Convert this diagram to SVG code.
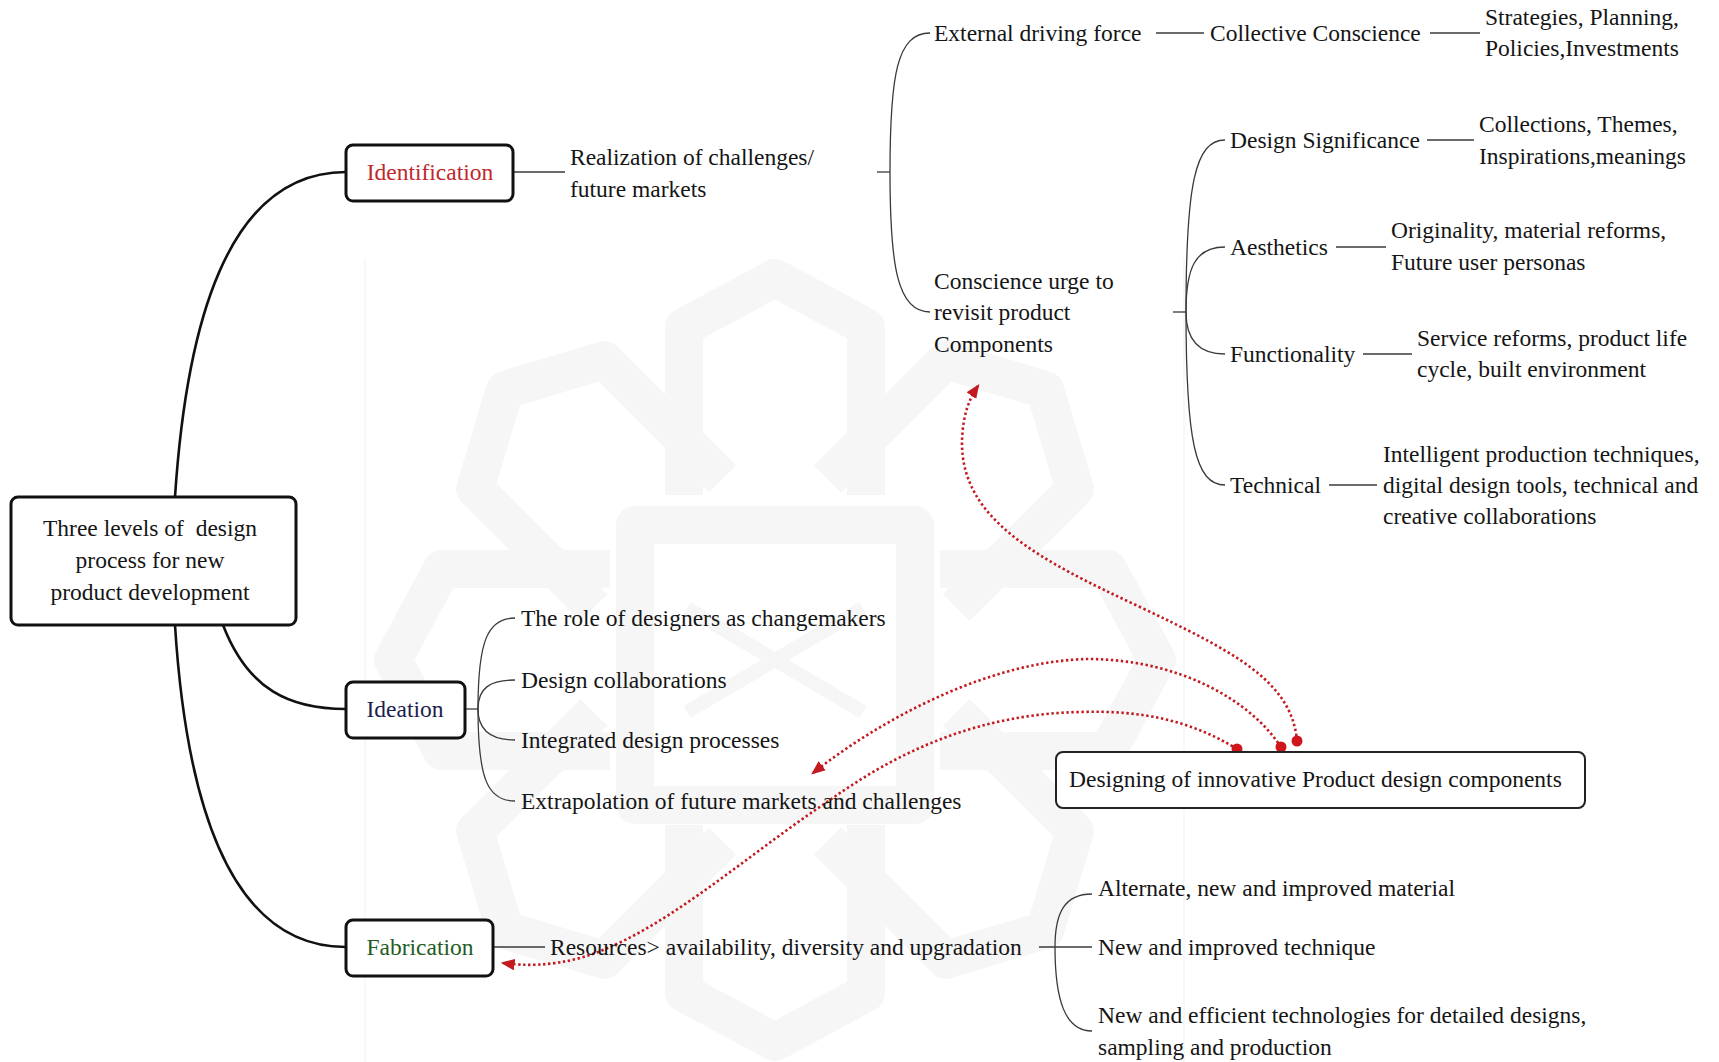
<svg xmlns="http://www.w3.org/2000/svg" width="1719" height="1062" viewBox="0 0 1719 1062">
  <style>
    text { font-family: "Liberation Serif", "Times New Roman", serif; font-size: 23.5px; fill: #151515; }
    .mid { text-anchor: middle; }
    .box { fill: #ffffff; stroke: #111111; stroke-width: 3; }
    .main { fill: none; stroke: #111111; stroke-width: 2.6; }
    .thin { fill: none; stroke: #3a3a3a; stroke-width: 1.3; }
    .link { fill: none; stroke: #c21a1f; stroke-width: 2.6; stroke-dasharray: 2.4 2.6; }
    .wm { fill: none; stroke: #f6f6f6; stroke-width: 38; stroke-linejoin: round; }
    .wmline { stroke: #f3f3f3; stroke-width: 1.2; }
  </style>
  <defs>
    <marker id="arrow" viewBox="0 0 12 10" refX="10" refY="5" markerWidth="14" markerHeight="12" markerUnits="userSpaceOnUse" orient="auto">
      <path d="M0,0 L12,5 L0,10 Z" fill="#c21a1f"/>
    </marker>
    <path id="petal" d="M-91,-165 L-91,-333 L0,-382 L91,-333 L91,-165"/>
  </defs>

  <rect width="1719" height="1062" fill="#ffffff"/>

  <!-- faint background emblem -->
  <g id="emblem">
    <line class="wmline" x1="365" y1="258" x2="365" y2="1062"/>
    <line class="wmline" x1="1184" y1="258" x2="1184" y2="1062"/>
    <g class="wm" transform="translate(775,660)">
      <use href="#petal"/>
      <use href="#petal" transform="rotate(45)"/>
      <use href="#petal" transform="rotate(90)"/>
      <use href="#petal" transform="rotate(135)"/>
      <use href="#petal" transform="rotate(180)"/>
      <use href="#petal" transform="rotate(225)"/>
      <use href="#petal" transform="rotate(270)"/>
      <use href="#petal" transform="rotate(315)"/>
      <rect x="-140" y="-135" width="280" height="280"/>
      <path d="M-88,-52 L88,52 M88,-52 L-88,52" stroke-width="14"/>
    </g>
  </g>

  <!-- tree connectors -->
  <g id="connectors">
    <path class="main" d="M175,497 C186,330 225,172 346,172"/>
    <path class="main" d="M223,625 C248,690 290,709 346,709"/>
    <path class="main" d="M175,625 C186,800 228,947 346,947"/>

    <!-- Identification branch -->
    <path class="thin" d="M513,172 H565"/>
    <path class="thin" d="M877,172 H890"/>
    <path class="thin" d="M890,172 C890,75 897,33 930,33"/>
    <path class="thin" d="M890,172 C890,265 897,312 930,312"/>
    <path class="thin" d="M1156,33 H1204"/>
    <path class="thin" d="M1430,33 H1480"/>
    <path class="thin" d="M1173,312 H1186"/>
    <path class="thin" d="M1186,312 C1186,185 1195,140 1225,140"/>
    <path class="thin" d="M1186,312 C1186,268 1195,247 1225,247"/>
    <path class="thin" d="M1186,312 C1186,335 1195,354 1225,354"/>
    <path class="thin" d="M1186,312 C1186,440 1195,485 1225,485"/>
    <path class="thin" d="M1427,140 H1474"/>
    <path class="thin" d="M1336,247 H1386"/>
    <path class="thin" d="M1363,354 H1412"/>
    <path class="thin" d="M1329,485 H1377"/>

    <!-- Ideation branch -->
    <path class="thin" d="M465,709 H478"/>
    <path class="thin" d="M478,709 C478,640 488,618 515,618"/>
    <path class="thin" d="M478,709 C478,688 490,680 515,680"/>
    <path class="thin" d="M478,709 C478,730 490,740 515,740"/>
    <path class="thin" d="M478,709 C478,780 488,801 515,801"/>

    <!-- Fabrication branch -->
    <path class="thin" d="M493,947 H545"/>
    <path class="thin" d="M1039,947 H1092"/>
    <path class="thin" d="M1055,947 C1055,912 1065,894 1092,894"/>
    <path class="thin" d="M1055,947 C1055,1000 1065,1031 1092,1031"/>

    <!-- dotted feedback links -->
    <path class="link" marker-end="url(#arrow)" d="M1297,741 C1292,680 1230,650 1140,607 C1040,560 960,520 962,440 C963,415 969,399 978,386"/>
    <path class="link" marker-end="url(#arrow)" d="M1281,747 C1250,700 1180,660 1090,659 C990,660 880,720 813,773"/>
    <path class="link" marker-end="url(#arrow)" d="M1237,749 C1190,720 1140,710 1080,712 C980,714 900,750 830,800 C740,860 660,935 580,958 C550,966 525,966 503,963"/>
    <g fill="#d0161c">
      <circle cx="1297" cy="741" r="5.5"/>
      <circle cx="1281" cy="747" r="5.5"/>
      <circle cx="1237" cy="749" r="5.5"/>
    </g>
  </g>

  <!-- root -->
  <g id="root">
    <rect class="box" x="11" y="497" width="285" height="128" rx="7"/>
    <text class="mid" x="150" y="536" xml:space="preserve">Three levels of  design</text>
    <text class="mid" x="150" y="568">process for new</text>
    <text class="mid" x="150" y="600">product development</text>
  </g>

  <!-- level 1 -->
  <g id="identification">
    <rect class="box" x="346" y="145" width="167" height="56" rx="7"/>
    <text class="mid" x="430" y="180" style="fill:#c0272d">Identification</text>
  </g>
  <g id="ideation">
    <rect class="box" x="346" y="682" width="119" height="56" rx="7"/>
    <text class="mid" x="405" y="717" style="fill:#1d1d4e">Ideation</text>
  </g>
  <g id="fabrication">
    <rect class="box" x="346" y="920" width="147" height="56" rx="7"/>
    <text class="mid" x="420" y="955" style="fill:#1f5c1f">Fabrication</text>
  </g>
  <g id="designing">
    <rect x="1056" y="752" width="529" height="56" rx="7" fill="#ffffff" stroke="#222" stroke-width="2"/>
    <text x="1069" y="787">Designing of innovative Product design components</text>
  </g>

  <!-- identification topics -->
  <g id="realization">
    <text x="570" y="165">Realization of challenges/</text>
    <text x="570" y="197">future markets</text>
  </g>
  <g id="external">
    <text x="934" y="41">External driving force</text>
  </g>
  <g id="collective">
    <text x="1210" y="41">Collective Conscience</text>
  </g>
  <g id="strategies">
    <text x="1485" y="25">Strategies, Planning,</text>
    <text x="1485" y="56">Policies,Investments</text>
  </g>
  <g id="conscience">
    <text x="934" y="289">Conscience urge to</text>
    <text x="934" y="320">revisit product</text>
    <text x="934" y="352">Components</text>
  </g>
  <g id="significance">
    <text x="1230" y="148">Design Significance</text>
  </g>
  <g id="collections">
    <text x="1479" y="132">Collections, Themes,</text>
    <text x="1479" y="164">Inspirations,meanings</text>
  </g>
  <g id="aesthetics">
    <text x="1230" y="255">Aesthetics</text>
  </g>
  <g id="originality">
    <text x="1391" y="238">Originality, material reforms,</text>
    <text x="1391" y="270">Future user personas</text>
  </g>
  <g id="functionality">
    <text x="1230" y="362">Functionality</text>
  </g>
  <g id="service">
    <text x="1417" y="346">Service reforms, product life</text>
    <text x="1417" y="377">cycle, built environment</text>
  </g>
  <g id="technical">
    <text x="1230" y="493">Technical</text>
  </g>
  <g id="intelligent">
    <text x="1383" y="462">Intelligent production techniques,</text>
    <text x="1383" y="493">digital design tools, technical and</text>
    <text x="1383" y="524">creative collaborations</text>
  </g>

  <!-- ideation topics -->
  <g id="role"><text x="521" y="626">The role of designers as changemakers</text></g>
  <g id="collaborations"><text x="521" y="688">Design collaborations</text></g>
  <g id="integrated"><text x="521" y="748">Integrated design processes</text></g>
  <g id="extrapolation"><text x="521" y="809">Extrapolation of future markets and challenges</text></g>

  <!-- fabrication topics -->
  <g id="resources"><text x="550" y="955">Resources&gt; availability, diversity and upgradation</text></g>
  <g id="material"><text x="1098" y="896">Alternate, new and improved material</text></g>
  <g id="technique"><text x="1098" y="955">New and improved technique</text></g>
  <g id="technologies">
    <text x="1098" y="1023">New and efficient technologies for detailed designs,</text>
    <text x="1098" y="1055">sampling and production</text>
  </g>
</svg>
